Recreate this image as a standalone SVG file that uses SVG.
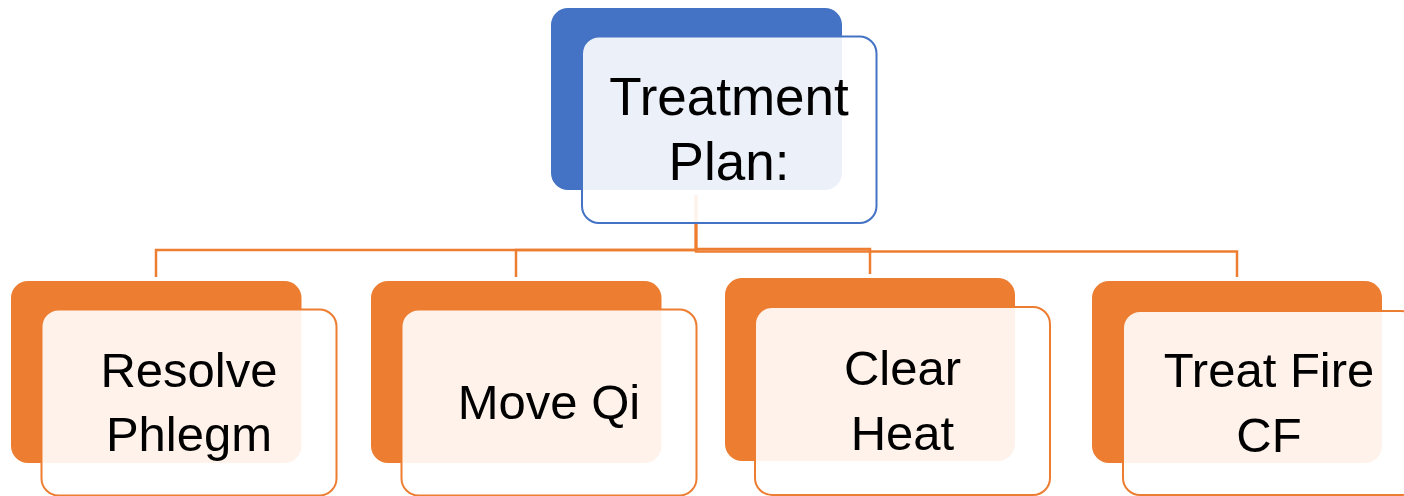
<svg xmlns="http://www.w3.org/2000/svg" width="1404" height="496" viewBox="0 0 1404 496">
<style>
.conn{fill:none;stroke:#ED7D31;stroke-width:2.5}
.bb{fill:#4472C4}
.fb{fill:#FFFFFF;fill-opacity:0.9;stroke:#4472C4;stroke-width:2}
.bo{fill:#ED7D31}
.fo{fill:#FFFFFF;fill-opacity:0.9;stroke:#ED7D31;stroke-width:2}
.t{font-family:"Liberation Sans",Arial,sans-serif;fill:#000;text-anchor:middle}
</style>
<g id="connectors">
<path class="conn" d="M696,195 V250 H156 V277"/>
<path class="conn" d="M696,195 V250 H516 V277"/>
<path class="conn" d="M696,195 V249 H870 V274"/>
<path class="conn" d="M696,195 V251.5 H1237 V277"/>
</g>
<g id="node-treatment-plan">
<rect class="bb" x="551" y="8" width="291" height="182" rx="17"/>
<rect class="fb" x="582" y="36.5" width="294.5" height="186.5" rx="17"/>
<text class="t" font-size="53" x="729" y="115">Treatment</text>
<text class="t" font-size="53" x="729" y="180">Plan:</text>
</g>
<g id="node-resolve-phlegm">
<rect class="bo" x="11" y="281" width="290.5" height="182" rx="17"/>
<rect class="fo" x="41.5" y="309.5" width="295" height="186" rx="17"/>
<text class="t" font-size="49" x="189" y="387">Resolve</text>
<text class="t" font-size="49" x="189" y="451">Phlegm</text>
</g>
<g id="node-move-qi">
<rect class="bo" x="371" y="281" width="290.5" height="182" rx="17"/>
<rect class="fo" x="401.5" y="309.5" width="295" height="186" rx="17"/>
<text class="t" font-size="49" x="549" y="419">Move Qi</text>
</g>
<g id="node-clear-heat">
<rect class="bo" x="725" y="278" width="290" height="183" rx="17"/>
<rect class="fo" x="755" y="307" width="295" height="188" rx="17"/>
<text class="t" font-size="49" x="902.5" y="385">Clear</text>
<text class="t" font-size="49" x="902.5" y="450">Heat</text>
</g>
<g id="node-treat-fire-cf">
<rect class="bo" x="1092" y="281" width="290" height="182" rx="17"/>
<rect class="fo" x="1123" y="311" width="295" height="184" rx="17"/>
<text class="t" font-size="49" x="1269" y="387">Treat Fire</text>
<text class="t" font-size="49" x="1269" y="452">CF</text>
</g>
</svg>
